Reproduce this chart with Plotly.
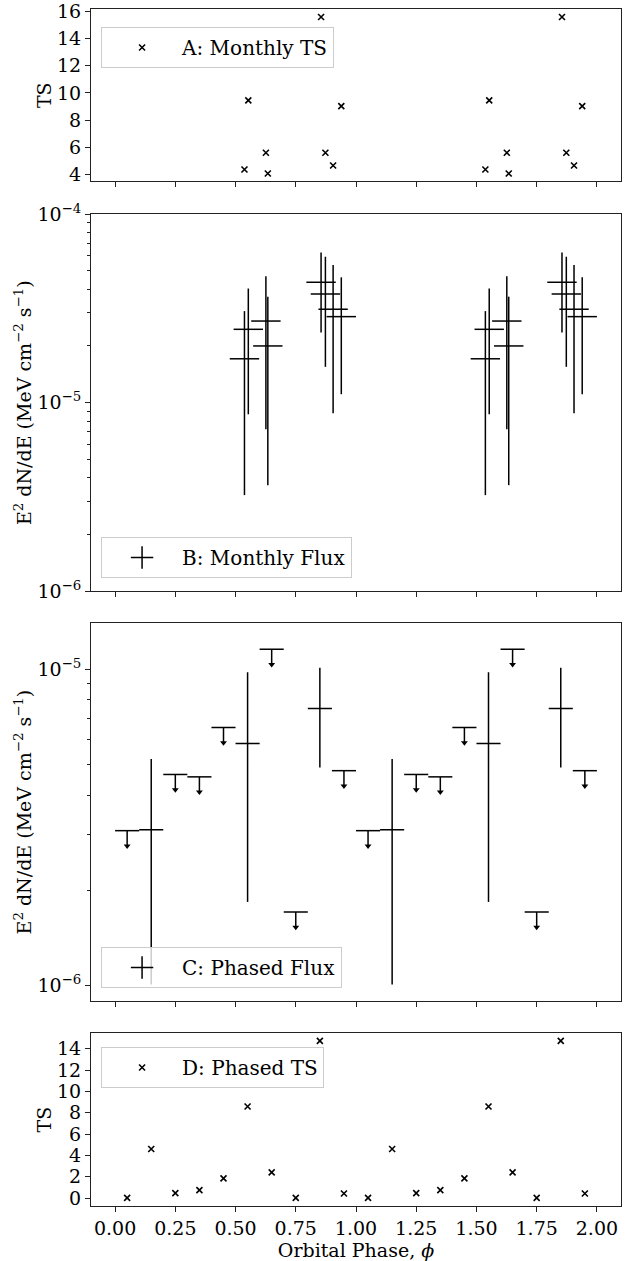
import plotly.graph_objects as go

# ---------------- data (one orbital cycle, shown twice: phase and phase + 1) ----------------
monthly_phase = [0.537, 0.553, 0.626, 0.634, 0.855, 0.873, 0.905, 0.939]
monthly_ts = [4.37, 9.45, 5.60, 4.07, 15.58, 5.60, 4.66, 9.03]
monthly_flux = [1.71e-5, 2.45e-5, 2.71e-5, 2.00e-5, 4.35e-5, 3.77e-5, 3.13e-5, 2.86e-5]
monthly_flux_hi = [3.06e-5, 4.03e-5, 4.68e-5, 3.65e-5, 6.26e-5, 5.94e-5, 5.37e-5, 4.62e-5]
monthly_flux_lo = [3.24e-6, 8.69e-6, 7.23e-6, 3.66e-6, 2.36e-5, 1.55e-5, 8.80e-6, 1.11e-5]
monthly_halfwidth = 0.061

phased_phase = [0.05, 0.15, 0.25, 0.35, 0.45, 0.55, 0.65, 0.75, 0.85, 0.95]
phased_ts = [0.02, 4.61, 0.47, 0.75, 1.85, 8.59, 2.41, 0.02, 14.73, 0.44]
phased_flux = [3.09e-6, 3.11e-6, 4.65e-6, 4.57e-6, 6.54e-6, 5.82e-6, 1.156e-5, 1.71e-6, 7.51e-6, 4.78e-6]
phased_is_ul = [True, False, True, True, True, False, True, True, False, True]
phased_flux_hi = [None, 5.20e-6, None, None, None, 9.78e-6, None, None, 1.01e-5, None]
phased_flux_lo = [None, 1.01e-6, None, None, None, 1.84e-6, None, None, 4.89e-6, None]
phased_halfwidth = 0.05
ul_arrow_fraction = 0.105

x_ticks = [0.0, 0.25, 0.5, 0.75, 1.0, 1.25, 1.5, 1.75, 2.0]


def two_cycles(phases):
    return list(phases) + [p + 1.0 for p in phases]


def twice(vals):
    return list(vals) + list(vals)


FONT = "DejaVu Serif"
FS = 19
LFS = 20
INK = "black"

fig = go.Figure()

# ---- A: monthly TS
fig.add_trace(go.Scatter(
    x=two_cycles(monthly_phase), y=twice(monthly_ts), mode="markers",
    marker=dict(symbol="x-thin", size=6, line=dict(width=1.6, color=INK), color=INK),
    name="A: Monthly TS", xaxis="x", yaxis="y", legend="legend"))

# ---- B: monthly flux
mf = twice(monthly_flux)
mhi = twice(monthly_flux_hi)
mlo = twice(monthly_flux_lo)
fig.add_trace(go.Scatter(
    x=two_cycles(monthly_phase), y=mf, mode="markers",
    marker=dict(size=1, color="rgba(0,0,0,0)"),
    error_x=dict(type="constant", value=monthly_halfwidth, thickness=1.5, width=0, color=INK),
    error_y=dict(type="data", symmetric=False,
                 array=[h - v for h, v in zip(mhi, mf)],
                 arrayminus=[v - l for v, l in zip(mf, mlo)],
                 thickness=1.5, width=0, color=INK),
    showlegend=False, xaxis="x2", yaxis="y2"))
fig.add_trace(go.Scatter(
    x=[None], y=[None], mode="markers",
    marker=dict(symbol="cross-thin", size=18, line=dict(width=1.5, color=INK), color=INK),
    name="B: Monthly Flux", xaxis="x2", yaxis="y2", legend="legend2"))

# ---- C: phased flux (detections and upper limits)
px2 = two_cycles(phased_phase)
pf2 = twice(phased_flux)
pul2 = twice(phased_is_ul)
phi2 = twice(phased_flux_hi)
plo2 = twice(phased_flux_lo)

det_x = [x for x, u in zip(px2, pul2) if not u]
det_y = [y for y, u in zip(pf2, pul2) if not u]
det_hi = [h for h, u in zip(phi2, pul2) if not u]
det_lo = [l for l, u in zip(plo2, pul2) if not u]
fig.add_trace(go.Scatter(
    x=det_x, y=det_y, mode="markers",
    marker=dict(size=1, color="rgba(0,0,0,0)"),
    error_x=dict(type="constant", value=phased_halfwidth, thickness=1.5, width=0, color=INK),
    error_y=dict(type="data", symmetric=False,
                 array=[h - v for h, v in zip(det_hi, det_y)],
                 arrayminus=[v - l for v, l in zip(det_y, det_lo)],
                 thickness=1.5, width=0, color=INK),
    showlegend=False, xaxis="x3", yaxis="y3"))

ul_x = [x for x, u in zip(px2, pul2) if u]
ul_y = [y for y, u in zip(pf2, pul2) if u]
fig.add_trace(go.Scatter(
    x=ul_x, y=ul_y, mode="markers",
    marker=dict(size=1, color="rgba(0,0,0,0)"),
    error_x=dict(type="constant", value=phased_halfwidth, thickness=1.5, width=0, color=INK),
    error_y=dict(type="data", symmetric=False,
                 array=[0.0] * len(ul_y),
                 arrayminus=[ul_arrow_fraction * v for v in ul_y],
                 thickness=1.5, width=0, color=INK),
    showlegend=False, xaxis="x3", yaxis="y3"))
fig.add_trace(go.Scatter(
    x=ul_x, y=[(1 - ul_arrow_fraction) * v for v in ul_y], mode="markers",
    marker=dict(symbol="triangle-down", size=6, color=INK, line=dict(width=0)),
    showlegend=False, xaxis="x3", yaxis="y3"))
fig.add_trace(go.Scatter(
    x=[None], y=[None], mode="markers",
    marker=dict(symbol="cross-thin", size=18, line=dict(width=1.5, color=INK), color=INK),
    name="C: Phased Flux", xaxis="x3", yaxis="y3", legend="legend3"))

# ---- D: phased TS
fig.add_trace(go.Scatter(
    x=px2, y=twice(phased_ts), mode="markers",
    marker=dict(symbol="x-thin", size=6, line=dict(width=1.6, color=INK), color=INK),
    name="D: Phased TS", xaxis="x4", yaxis="y4", legend="legend4"))

# ---------------- layout ----------------
axis_common = dict(showline=True, mirror=True, linecolor="#222", linewidth=1,
                   ticks="outside", ticklen=5, tickwidth=1, tickcolor="#222",
                   showgrid=False, zeroline=False, automargin=False,
                   ticklabeloverflow="allow",
                   tickfont=dict(family=FONT, size=FS, color=INK))


def xaxis(anchor, labels):
    d = dict(axis_common)
    d.update(anchor=anchor, range=[-0.1, 2.1], tickvals=x_ticks,
             ticktext=["%.2f" % t for t in x_ticks], showticklabels=labels)
    return d


ytitle_flux = "E<sup>2</sup> dN/dE (MeV cm<sup>−2</sup> s<sup>−1</sup>)"
log_minor = [m * 10.0 ** e for e in (-6, -5) for m in range(2, 10)]

domA = [0.8559, 1.0]
domB = [0.5134, 0.8287]
domC = [0.1713, 0.4868]
domD = [0.0, 0.1445]

title_font = dict(family=FONT, size=FS, color=INK)

yA = dict(axis_common)
yA.update(anchor="x", domain=domA, range=[3.485, 16.172], tickvals=[4, 6, 8, 10, 12, 14, 16],
          title=dict(text="TS", font=title_font, standoff=0))
yB = dict(axis_common)
yB.update(anchor="x2", domain=domB, type="log", range=[-6, -4],
          tickvals=[1e-6, 1e-5, 1e-4],
          ticktext=["10<sup>−6</sup>", "10<sup>−5</sup>", "10<sup>−4</sup>"],
          minor=dict(tickvals=log_minor, ticks="outside", ticklen=3, tickcolor="#222"),
          title=dict(text=ytitle_flux, font=title_font, standoff=0))
yC = dict(axis_common)
yC.update(anchor="x3", domain=domC, type="log", range=[-6.048, -4.855],
          tickvals=[1e-6, 1e-5],
          ticktext=["10<sup>−6</sup>", "10<sup>−5</sup>"],
          minor=dict(tickvals=log_minor, ticks="outside", ticklen=3, tickcolor="#222"),
          title=dict(text=ytitle_flux, font=title_font, standoff=0))
yD = dict(axis_common)
yD.update(anchor="x4", domain=domD, range=[-0.736, 15.47], tickvals=[0, 2, 4, 6, 8, 10, 12, 14],
          title=dict(text="TS", font=title_font, standoff=0))

xD = xaxis("y4", True)
xD["title"] = dict(text="Orbital Phase, <i>ϕ</i>", font=title_font, standoff=0)


def legend_box(y):
    return dict(x=0.019, y=y, xanchor="left", yanchor="top",
                bgcolor="rgba(255,255,255,0.8)", bordercolor="#cccccc", borderwidth=1,
                font=dict(family=FONT, size=LFS, color=INK), itemwidth=70)


fig.update_layout(
    width=630, height=1261,
    margin=dict(l=91, r=9, t=9, b=55, autoexpand=False),
    paper_bgcolor="white", plot_bgcolor="white",
    font=dict(family=FONT, size=FS, color=INK),
    xaxis=xaxis("y", False), xaxis2=xaxis("y2", False), xaxis3=xaxis("y3", False), xaxis4=xD,
    yaxis=yA, yaxis2=yB, yaxis3=yC, yaxis4=yD,
    legend=legend_box(0.985),
    legend2=legend_box(0.5589),
    legend3=legend_box(0.2164),
    legend4=legend_box(0.1328),
)

fig.write_html("out.html", config={"displayModeBar": False},
               post_script="document.body.style.margin = '0';")
